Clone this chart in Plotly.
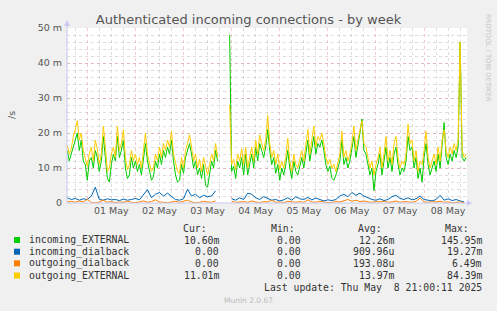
import numpy as np
import pandas as pd
import plotly.graph_objects as go

nan = float("nan")

# hourly samples starting 2025-04-30 14:00 (values in milli / s)
incoming_EXTERNAL = [
    15, 12, 14, 16, 18, 20, 15, 18, 12, 11, 6.5, 12, 13, 10, 15, 13, 9, 12, 19, 13,
    7, 6, 11, 14, 12, 19, 13, 15, 18, 10, 7, 8, 13, 10, 12, 9, 11, 8, 13, 17,
    12, 9, 6.5, 7.5, 12, 10, 14, 11, 15, 13, 16, 14, 18, 12, 8, 6, 6.5, 11, 8.5, 13,
    15, 17, 14, 10, 12, 8, 10, 7, 11, 5, 4.5, 9, 12, 10, 15, 12, nan, nan, nan, nan,
    nan, 48, 9, 10.5, 7, 12, 10, 13, 8, 14, 8, 11, 14, 10, 16, 12, 17, 15, 13, 16,
    21, 15, 11, 13, 8.5, 11, 6.5, 10, 8, 11, 15, 10, 7, 12, 9, 8, 11, 13, 10, 14,
    18, 12, 16, 19, 14, 17, 16, 18, 15, 11, 9, 10.5, 7, 6.5, 8, 10, 12, 18, 11, 13,
    10, 12, 15, 19, 13, 16, 20, 24, 15, 14, 11, 8, 10, 3.5, 9, 11, 14, 8, 12, 16,
    10, 13, 9, 14, 16, 11, 8, 10, 9, 12, 19, 15, 16, 10, 13, 7, 10, 6, 13, 17,
    11, 8, 10, 12, 9, 14, 10, 16, 23, 13, 11, 14, 12, 15, 13, 16, 46, 13, 12, 13,
]
outgoing_EXTERNAL = [
    16.5, 14, 15.5, 19, 21, 23.5, 18, 20, 15, 13, 10.5, 14, 16, 12, 18, 15.5, 11, 14, 22, 16,
    9, 10, 14, 16, 13, 22, 15, 17, 21, 13, 9.5, 11, 15, 12, 14, 11, 13, 10, 15, 20,
    14, 11, 9, 10, 14, 12, 16, 13, 17, 15, 18, 16, 20.5, 14, 11, 9, 8.5, 13, 10, 15,
    17, 19.5, 16, 12, 14, 10, 12.5, 9, 13, 10, 8, 11, 14, 12, 17, 13, nan, nan, nan, nan,
    nan, 28, 11, 12.5, 9.5, 14, 12, 15.5, 11, 16, 10, 13, 16, 12, 18, 14, 19.5, 17, 15, 18,
    25, 17, 13, 15, 11, 14, 9.5, 12, 10, 13, 18.5, 12, 9, 14, 11, 10, 13, 15, 12, 16,
    21, 14, 18, 22, 16, 19, 18, 20, 17, 13, 11, 12.5, 10, 11, 9, 12, 14, 20.5, 13, 15,
    12, 14, 17, 22, 15, 18, 21, 23.5, 17, 16, 13, 10, 12, 8, 11, 13, 16, 10, 14, 19,
    12, 15, 11, 17, 19, 13, 10, 12, 11, 14, 22.5, 17, 18, 12, 15, 9, 12, 11, 15, 20.5,
    13, 10, 12, 14, 11, 16, 12, 18, 21, 15, 13, 16, 14, 17, 15, 18, 46, 15, 13, 14,
]
# two-hourly samples starting 2025-04-30 14:00
incoming_dialback = [
    1.5, 1.0, 1.3, 0.8, 1.2, 1.0, 2.0, 4.5, 1.0, 0.8, 1.2, 0.9, 1.0, 0.7, 1.1, 0.8, 1.0, 1.3, 0.9, 2.5,
    3.8, 1.5, 2.5, 3.0, 2.0, 2.8, 1.8, 1.0, 0.8, 1.2, 3.9, 2.0, 2.5, 1.5, 2.2, 1.8, 2.0, 3.5, nan, nan,
    nan, 1.2, 0.8, 1.5, 1.0, 2.8, 2.5, 1.5, 1.0, 1.8, 1.2, 0.8, 1.0, 0.6, 0.9, 1.5, 0.8, 1.8, 1.2, 1.0,
    1.6, 0.9, 1.4, 1.0, 0.6, 0.9, 0.7, 1.0, 2.0, 2.5, 1.8, 3.0, 2.2, 2.8, 2.0, 1.5, 1.0, 0.8, 1.2, 0.7,
    1.0, 1.8, 2.2, 1.3, 1.0, 1.5, 0.9, 1.2, 2.0, 1.0, 0.8, 0.6, 1.0, 2.2, 0.8, 1.2, 0.7, 1.0, 0.6, 0.3,
]
outgoing_dialback = [
    0.3, 0.5, 0.2, 0.6, 0.3, 1.0, 0.2, 0.1, 0.3, 0.8, 0.2, 0.4, 0.1, 0.3, 0.2, 0.5, 0.2, 0.1, 0.3, 0.6,
    0.2, 0.4, 0.9, 0.3, 0.2, 0.1, 0.3, 0.5, 0.2, 0.4, 0.8, 0.3, 0.1, 0.2, 0.5, 0.3, 0.2, 0.6, nan, nan,
    nan, 0.5, 0.2, 0.3, 0.4, 0.2, 0.6, 0.3, 0.1, 0.4, 0.3, 0.8, 0.2, 0.3, 0.1, 0.5, 0.3, 0.2, 0.4, 0.2,
    0.9, 0.3, 0.2, 0.5, 0.3, 0.1, 0.2, 0.4, 0.3, 0.6, 1.0, 0.5, 0.8, 0.4, 0.6, 0.3, 0.2, 0.4, 0.3, 0.5,
    0.2, 0.3, 0.6, 0.2, 0.4, 0.3, 0.2, 0.5, 1.4, 0.3, 0.2, 0.4, 0.3, 0.5, 0.2, 0.3, 0.1, 0.2, 0.3, 0.1,
]

series_names = ["incoming_EXTERNAL", "incoming_dialback", "outgoing_dialback", "outgoing_EXTERNAL"]
series_colors = ["#00CC00", "#0066B3", "#FF8000", "#FFCC00"]
cur_vals = ["10.60m", "0.00", "0.00", "11.01m"]
min_vals = ["0.00", "0.00", "0.00", "0.00"]
avg_vals = ["12.26m", "909.96u", "193.08u", "13.97m"]
max_vals = ["145.95m", "19.27m", "6.49m", "84.39m"]
y_tick_vals = [0, 10, 20, 30, 40, 50]
y_tick_text = ["0", "10 m", "20 m", "30 m", "40 m", "50 m"]

start = pd.Timestamp("2025-04-30 14:00")
t_hour = pd.date_range(start, periods=len(incoming_EXTERNAL), freq="h")
t_2h = pd.date_range(start, periods=len(incoming_dialback), freq="2h")

fig = go.Figure()
data_map = {
    "incoming_EXTERNAL": (t_hour, incoming_EXTERNAL),
    "incoming_dialback": (t_2h, incoming_dialback),
    "outgoing_dialback": (t_2h, outgoing_dialback),
    "outgoing_EXTERNAL": (t_hour, outgoing_EXTERNAL),
}
for name, col in zip(series_names, series_colors):
    tx, vy = data_map[name]
    fig.add_trace(go.Scatter(x=tx, y=vy, mode="lines", name=name,
                             line=dict(color=col, width=1), connectgaps=False,
                             showlegend=False))

W, H = 497, 311
L, R, T, B = 67, 30, 28, 108
PW, PH = W - L - R, H - T - B

def px(x):
    return (x - L) / PW

def py(y):
    return (H - B - y) / PH

tick_font = dict(family="DejaVu Sans", size=9.5, color="#555555")
major_grid = "rgba(230,140,140,0.45)"
minor_grid = "rgba(175,175,175,0.42)"

fig.update_layout(
    width=W, height=H,
    margin=dict(l=L, r=R, t=T, b=B),
    paper_bgcolor="#F0F0F0", plot_bgcolor="#FFFFFF",
    title=dict(text="Authenticated incoming connections - by week",
               x=0.5, xanchor="center", y=1 - 19 / H, yanchor="middle",
               font=dict(family="DejaVu Sans", size=13, color="#555555")),
    xaxis=dict(range=["2025-04-30 13:52", "2025-05-08 21:25"],
               type="date", tick0="2025-05-01", dtick=86400000,
               tickformat="%d %b", ticklabelmode="period",
               showgrid=True, gridcolor=major_grid, griddash="dot", gridwidth=1,
               minor=dict(dtick=6 * 3600000, showgrid=True, gridcolor=minor_grid,
                          griddash="dot", gridwidth=1),
               ticks="", tickfont=tick_font, zeroline=False,
               showline=False),
    yaxis=dict(range=[0, 50], tickvals=y_tick_vals, ticktext=y_tick_text,
               showgrid=True, gridcolor=major_grid, griddash="dot", gridwidth=1,
               minor=dict(dtick=2, showgrid=True, gridcolor=minor_grid,
                          griddash="dot", gridwidth=1),
               ticks="", tickfont=tick_font, zeroline=False, showline=False,
               ticklabelstandoff=4),
)

shapes = []
axis_col = "#C8C8F0"
# axes lines and arrows
shapes.append(dict(type="line", xref="paper", yref="paper", x0=0, x1=px(470), y0=0, y1=0,
                   line=dict(color=axis_col, width=1)))
shapes.append(dict(type="line", xref="paper", yref="paper", x0=0, x1=0, y0=0, y1=py(24),
                   line=dict(color=axis_col, width=1)))
shapes.append(dict(type="path", xref="paper", yref="paper",
                   path=f"M {px(467)} {py(200)} L {px(472)} {py(203)} L {px(467)} {py(206)} Z",
                   fillcolor=axis_col, line=dict(width=0)))
shapes.append(dict(type="path", xref="paper", yref="paper",
                   path=f"M {px(64)} {py(26)} L {px(67)} {py(20)} L {px(70)} {py(26)} Z",
                   fillcolor=axis_col, line=dict(width=0)))

ann = []
mono = dict(family="DejaVu Sans Mono", size=9.8, color="#333333")
row_y = [240, 251.7, 263.3, 275.5]
header_y = 228.5
for txt, xr in zip(["Cur:", "Min:", "Avg:", "Max:"], [208.5, 296.5, 383.5, 470.5]):
    ann.append(dict(x=px(xr), y=py(header_y), xref="paper", yref="paper", text=txt,
                    showarrow=False, xanchor="right", yanchor="middle", font=mono))
for i, name in enumerate(series_names):
    yy = row_y[i]
    shapes.append(dict(type="rect", xref="paper", yref="paper",
                       x0=px(14), x1=px(20), y0=py(yy - 3), y1=py(yy + 3),
                       fillcolor=series_colors[i], line=dict(width=0)))
    ann.append(dict(x=px(26.5), y=py(yy), xref="paper", yref="paper", text=name,
                    showarrow=False, xanchor="left", yanchor="middle", font=mono))
    for v, xr in zip([cur_vals[i], min_vals[i], avg_vals[i], max_vals[i]],
                     [221, 302.5, 396, 483.5]):
        ann.append(dict(x=px(xr), y=py(yy), xref="paper", yref="paper", text=v,
                        showarrow=False, xanchor="right", yanchor="middle", font=mono))
ann.append(dict(x=px(483.5), y=py(287.5), xref="paper", yref="paper",
                text="Last update: Thu May\u00a0\u00a08 21:00:11 2025",
                showarrow=False, xanchor="right", yanchor="middle", font=mono))
ann.append(dict(x=px(248), y=py(300.5), xref="paper", yref="paper", text="Munin 2.0.67",
                showarrow=False, xanchor="center", yanchor="middle",
                font=dict(family="DejaVu Sans", size=7.5, color="#BBBBBB")))
ann.append(dict(x=px(488), y=py(58), xref="paper", yref="paper",
                text="RRDTOOL / TOBI OETIKER", textangle=90,
                showarrow=False, xanchor="center", yanchor="middle",
                font=dict(family="DejaVu Sans", size=6.8, color="#C4C4C4")))
ann.append(dict(x=px(11), y=py(115), xref="paper", yref="paper", text="/s",
                textangle=-90, showarrow=False, xanchor="center", yanchor="middle",
                font=dict(family="DejaVu Sans", size=9.5, color="#555555")))

fig.update_layout(shapes=shapes, annotations=ann)
fig.write_html("out.html")
